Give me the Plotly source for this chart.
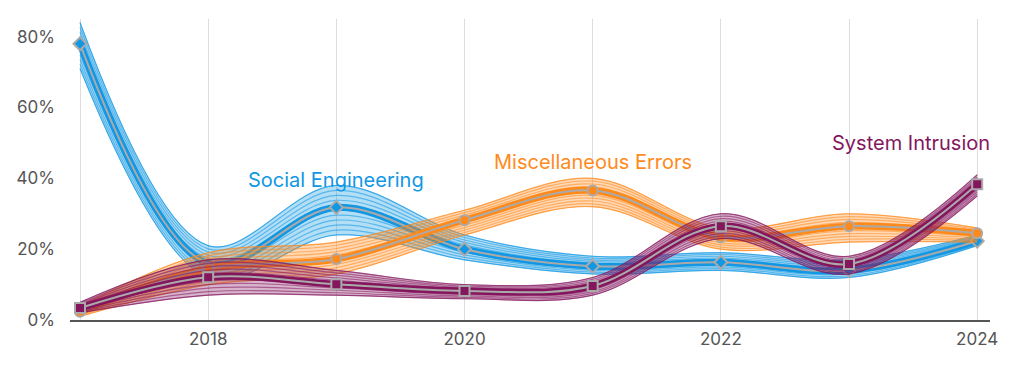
import plotly.graph_objects as go

years = [2017, 2018, 2019, 2020, 2021, 2022, 2023, 2024]
x_tick_text = ["", "2018", "", "2020", "", "2022", "", "2024"]
y_tick_vals = [0, 20, 40, 60, 80]
y_tick_text = ["0%", "20%", "40%", "60%", "80%"]

social_eng = [78.0, 16.0, 31.8, 20.0, 15.2, 16.3, 14.0, 22.3]
social_eng_low = [71.0, 12.0, 24.0, 17.0, 13.0, 14.0, 12.0, 21.0]
social_eng_high = [84.0, 21.0, 38.0, 24.0, 18.0, 19.0, 17.0, 24.0]

misc_err = [2.3, 14.6, 17.2, 28.2, 36.6, 23.4, 26.5, 24.5]
misc_err_low = [1.0, 10.0, 13.0, 24.0, 32.0, 20.0, 22.0, 22.0]
misc_err_high = [4.0, 19.0, 22.0, 31.0, 40.0, 26.0, 30.0, 26.0]

sys_intr = [3.4, 12.1, 10.1, 8.2, 9.6, 26.5, 15.8, 38.3]
sys_intr_low = [2.0, 7.0, 7.0, 6.0, 7.0, 23.0, 13.0, 35.0]
sys_intr_high = [5.0, 17.0, 14.0, 10.0, 12.0, 30.0, 18.0, 41.0]

series = [
    ("Social Engineering", social_eng, social_eng_low, social_eng_high, "#1197e3", "rgba(17,151,227,0.32)", "diamond", 2019.0, 39.6),
    ("Miscellaneous Errors", misc_err, misc_err_low, misc_err_high, "#ff8a1c", "rgba(255,138,28,0.32)", "circle", 2021.0, 44.6),
    ("System Intrusion", sys_intr, sys_intr_low, sys_intr_high, "#84165e", "rgba(132,22,94,0.32)", "square", 2023.48, 49.9),
]

fig = go.Figure()
fracs = [0.0, 0.1, 0.2, 0.3, 0.4, 0.5, 0.6, 0.7, 0.8, 0.9, 1.0]
for name, vals, lo, hi, col, fillc, sym, lx, ly in series:
    fig.add_trace(go.Scatter(x=years, y=lo, mode="lines", line=dict(color=col, width=0.6, shape="spline", smoothing=1.0),
                             showlegend=False, hoverinfo="skip"))
    fig.add_trace(go.Scatter(x=years, y=hi, mode="lines", line=dict(color=col, width=0.6, shape="spline", smoothing=1.0),
                             fill="tonexty", fillcolor=fillc, showlegend=False, hoverinfo="skip"))
    for f in fracs:
        yy = [l + f * (h - l) for l, h in zip(lo, hi)]
        fig.add_trace(go.Scatter(x=years, y=yy, mode="lines", opacity=0.55,
                                 line=dict(color=col, width=1.2, shape="spline", smoothing=1.0),
                                 showlegend=False, hoverinfo="skip"))
    fig.add_trace(go.Scatter(x=years, y=vals, mode="lines", line=dict(color=col, width=7, shape="spline", smoothing=1.0),
                             showlegend=False, hoverinfo="skip"))
    fig.add_trace(go.Scatter(x=years, y=vals, mode="lines+markers", name=name,
                             line=dict(color="#aaaaaa", width=2, shape="spline", smoothing=1.0),
                             marker=dict(symbol=sym, size=10, color=col, line=dict(color="#aaaaaa", width=2)),
                             showlegend=False))
    fig.add_annotation(x=lx, y=ly, text=name, showarrow=False,
                       font=dict(family="Inter, Roboto, sans-serif", size=20, color=col))

fig.update_layout(
    width=1020, height=382,
    margin=dict(l=70, r=30, t=19, b=62),
    paper_bgcolor="white", plot_bgcolor="white",
    showlegend=False,
    font=dict(family="Inter, Roboto, sans-serif", color="#555555", size=17),
)
fig.update_xaxes(range=[2016.922, 2024.1], tickvals=years, ticktext=x_tick_text, automargin=False,
                 showgrid=True, gridcolor="#dddddd", gridwidth=1, zeroline=False,
                 showline=True, linecolor="#555555", linewidth=1.5, ticks="", ticklabelstandoff=3)
fig.update_yaxes(range=[0, 85], tickvals=y_tick_vals, ticktext=y_tick_text, automargin=False,
                 showgrid=False, zeroline=False, showline=False, ticks="", ticklabelstandoff=14)

fig.write_html("out.html", config={"displayModeBar": False},
               post_script="document.body.style.margin='0';document.body.style.overflow='hidden';")
